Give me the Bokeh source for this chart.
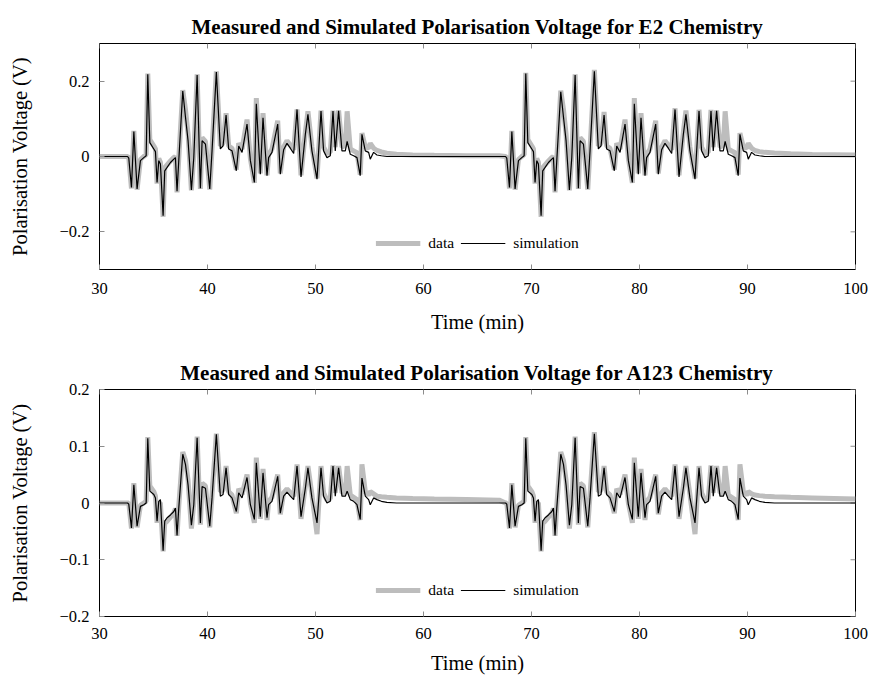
from bokeh.plotting import figure
from bokeh.layouts import column
from bokeh.models import FixedTicker, Legend, LegendItem, CustomJSTickFormatter
from bokeh.embed import file_html
from bokeh.resources import INLINE

FONT = "Liberation Serif"

# ---- time stamps (min) of the polyline vertices, cycle 1 and cycle 2 ----
TIME_C1 = [30.0, 32.6, 32.71, 32.96, 33.18, 33.48, 33.79, 34.10, 34.32, 34.47,
           34.66, 35.03, 35.18, 35.33, 35.49, 35.64, 35.89, 36.04, 36.26, 36.57,
           36.88, 37.03, 37.18, 37.34, 37.71, 37.96, 38.20, 38.51, 38.73, 39.04,
           39.34, 39.50, 39.81, 40.21, 40.42, 40.82, 41.19, 41.44, 41.72, 41.96,
           42.27, 42.67, 42.89, 43.20, 43.66, 43.97, 44.34, 44.52, 44.89, 45.14,
           45.51, 45.66, 45.97, 46.50, 46.74, 47.05, 47.36, 47.67, 47.98, 48.29,
           48.66, 49.06, 49.30, 49.67, 50.14, 50.51, 50.75, 51.06, 51.37, 51.62,
           51.83, 52.14, 52.45, 52.76, 52.93, 53.22, 53.53, 53.84, 54.14, 54.30,
           54.61, 54.92, 55.07, 55.38, 55.69, 56.10, 56.61, 57.5, 59.0, 61.0,
           64.0, 67.0]
TIME_C2 = [67.6, 67.71, 67.96, 68.18, 68.48, 68.79, 69.10, 69.32, 69.47,
           69.66, 70.03, 70.18, 70.33, 70.49, 70.64, 70.89, 71.04, 71.26, 71.57,
           71.88, 72.03, 72.18, 72.34, 72.71, 72.96, 73.20, 73.51, 73.73, 74.04,
           74.34, 74.50, 74.81, 75.21, 75.42, 75.82, 76.19, 76.44, 76.72, 76.96,
           77.27, 77.67, 77.89, 78.20, 78.66, 78.97, 79.34, 79.52, 79.89, 80.14,
           80.51, 80.66, 80.97, 81.50, 81.74, 82.05, 82.36, 82.67, 82.98, 83.29,
           83.66, 84.06, 84.30, 84.67, 85.14, 85.51, 85.75, 86.06, 86.37, 86.62,
           86.83, 87.14, 87.45, 87.76, 87.93, 88.22, 88.53, 88.84, 89.14, 89.30,
           89.61, 89.92, 90.07, 90.38, 90.69, 91.10, 91.61,
           92.5, 94.0, 96.0, 98.0, 100.0]

# ---- E2 chemistry (V) ----
E2_SIM_C1 = [0, 0, -0.004, -0.082, 0.066, -0.086, -0.011, -0.003, 0.002, 0.218,
             0.037, 0.020, 0.013, -0.069, -0.011, -0.020, -0.157, -0.038, -0.029, -0.016,
             -0.007, -0.003, -0.092, -0.011, 0.174, 0.105, 0.042, -0.089, -0.003, 0.216,
             -0.084, 0.042, 0.033, -0.086, 0.015, 0.224, 0.020, 0.028, 0.110, 0.020,
             0.015, -0.038, 0.028, 0.011, 0.086, -0.011, -0.069, 0.140, -0.047, 0.103,
             -0.051, -0.003, 0.011, 0.086, -0.047, 0.018, 0.035, 0.022, 0.008, 0.125,
             -0.054, 0.059, 0.112, 0.015, -0.060, 0.121, 0.015, -0.003, 0.002, 0.121,
             0.015, 0.121, 0.015, 0.015, 0.040, 0.006, 0.002, -0.003, -0.051, 0.059,
             0.015, 0.011, -0.007, 0.011, 0.004, 0.002, 0.0, 0.0, 0.0, 0.0,
             0.0, 0.0]
E2_SIM_C2 = [0, -0.004, -0.082, 0.066, -0.086, -0.011, -0.003, 0.002, 0.220,
             0.037, 0.020, 0.013, -0.069, -0.011, -0.020, -0.157, -0.038, -0.029, -0.016,
             -0.007, -0.003, -0.092, -0.011, 0.172, 0.105, 0.042, -0.089, -0.003, 0.216,
             -0.084, 0.042, 0.033, -0.086, 0.015, 0.226, 0.020, 0.028, 0.110, 0.020,
             0.015, -0.038, 0.028, 0.011, 0.086, -0.011, -0.069, 0.140, -0.047, 0.103,
             -0.051, -0.003, 0.011, 0.086, -0.047, 0.018, 0.035, 0.022, 0.008, 0.125,
             -0.054, 0.059, 0.112, 0.015, -0.060, 0.121, 0.015, -0.003, 0.002, 0.121,
             0.015, 0.121, 0.015, 0.015, 0.040, 0.006, 0.002, -0.003, -0.051, 0.059,
             0.015, 0.011, -0.007, 0.011, 0.004, 0.002, 0.0,
             0.0, 0.0, 0.0, 0.0, 0.0]
E2_DATA_C1 = [0, 0, -0.003, -0.085, 0.068, -0.088, -0.008, 0.0, 0.005, 0.220,
              0.045, 0.028, 0.020, -0.072, -0.005, -0.015, -0.160, -0.030, -0.022, -0.012,
              -0.003, 0.0, -0.095, -0.005, 0.176, 0.125, 0.060, -0.090, 0.003, 0.218,
              -0.086, 0.050, 0.040, -0.088, 0.020, 0.226, 0.028, 0.035, 0.115, 0.028,
              0.022, -0.035, 0.035, 0.020, 0.098, -0.005, -0.070, 0.155, -0.045, 0.115,
              -0.050, 0.005, 0.020, 0.095, -0.045, 0.025, 0.042, 0.030, 0.018, 0.125,
              -0.050, 0.065, 0.120, 0.025, -0.058, 0.122, 0.025, 0.008, 0.012, 0.122,
              0.025, 0.122, 0.025, 0.030, 0.120, 0.020, 0.015, 0.010, -0.048, 0.062,
              0.025, 0.022, 0.035, 0.022, 0.016, 0.012, 0.009, 0.006, 0.004, 0.003,
              0.002, 0.002]
E2_DATA_C2 = [0, -0.003, -0.085, 0.068, -0.088, -0.008, 0.0, 0.005, 0.222,
              0.045, 0.028, 0.020, -0.072, -0.005, -0.015, -0.160, -0.030, -0.022, -0.012,
              -0.003, 0.0, -0.095, -0.005, 0.175, 0.125, 0.060, -0.090, 0.003, 0.218,
              -0.086, 0.050, 0.040, -0.088, 0.020, 0.230, 0.028, 0.035, 0.118, 0.028,
              0.022, -0.035, 0.035, 0.020, 0.098, -0.005, -0.070, 0.155, -0.045, 0.115,
              -0.050, 0.005, 0.020, 0.095, -0.045, 0.025, 0.042, 0.030, 0.018, 0.128,
              -0.050, 0.065, 0.122, 0.025, -0.058, 0.124, 0.025, 0.008, 0.012, 0.124,
              0.025, 0.122, 0.025, 0.030, 0.120, 0.020, 0.015, 0.010, -0.048, 0.062,
              0.025, 0.022, 0.035, 0.022, 0.016, 0.013, 0.011,
              0.009, 0.007, 0.005, 0.0045, 0.004]

# ---- A123 chemistry (V) ----
A123_SIM_C1 = [0, 0, -0.002, -0.044, 0.032, -0.041, -0.006, -0.003, 0.0, 0.114,
               0.021, 0.015, 0.009, -0.032, 0.003, 0.006, -0.084, -0.032, -0.026, -0.021,
               -0.015, -0.009, -0.057, -0.009, 0.086, 0.068, 0.032, -0.039, -0.003, 0.115,
               -0.035, 0.029, 0.026, -0.041, 0.009, 0.121, 0.012, 0.015, 0.062, 0.015,
               0.009, -0.015, 0.018, 0.009, 0.045, -0.003, -0.029, 0.071, -0.024, 0.053,
               -0.026, -0.003, 0.003, 0.047, -0.018, 0.012, 0.019, 0.012, 0.006, 0.065,
               -0.024, 0.026, 0.062, 0.009, -0.035, 0.062, 0.012, 0.0, 0.003, 0.065,
               0.012, 0.062, 0.012, 0.012, 0.021, 0.006, 0.003, -0.003, -0.029, 0.044,
               0.012, 0.006, -0.003, 0.009, 0.006, 0.003, 0.001, 0.0, 0.0, 0.0,
               0.0, 0.0]
A123_SIM_C2 = [0, -0.002, -0.044, 0.032, -0.041, -0.006, -0.003, 0.0, 0.114,
               0.021, 0.015, 0.009, -0.032, 0.003, 0.006, -0.084, -0.032, -0.026, -0.021,
               -0.015, -0.009, -0.057, -0.009, 0.086, 0.068, 0.032, -0.039, -0.003, 0.115,
               -0.035, 0.029, 0.026, -0.041, 0.009, 0.122, 0.012, 0.015, 0.062, 0.015,
               0.009, -0.015, 0.018, 0.009, 0.045, -0.003, -0.029, 0.071, -0.024, 0.053,
               -0.026, -0.003, 0.003, 0.047, -0.018, 0.012, 0.019, 0.012, 0.006, 0.065,
               -0.024, 0.026, 0.062, 0.009, -0.035, 0.062, 0.012, 0.0, 0.003, 0.065,
               0.012, 0.062, 0.012, 0.012, 0.021, 0.006, 0.003, -0.003, -0.029, 0.044,
               0.012, 0.006, -0.003, 0.009, 0.006, 0.003, 0.001,
               0.0, 0.0, 0.0, 0.0, 0.0]
A123_DATA_C1 = [0, 0, 0.0, -0.045, 0.035, -0.043, -0.004, 0.0, 0.003, 0.116,
                0.030, 0.020, 0.012, -0.035, 0.0, 0.0, -0.085, -0.036, -0.032, -0.025,
                -0.018, -0.010, -0.058, -0.005, 0.090, 0.075, 0.040, -0.045, 0.0, 0.117,
                -0.038, 0.035, 0.030, -0.043, 0.015, 0.122, 0.020, 0.022, 0.065, 0.020,
                0.014, -0.018, 0.025, 0.015, 0.050, 0.0, -0.035, 0.080, -0.028, 0.060,
                -0.030, 0.003, 0.010, 0.050, -0.020, 0.018, 0.025, 0.018, 0.012, 0.068,
                -0.028, 0.030, 0.065, 0.015, -0.055, 0.065, 0.018, 0.005, 0.008, 0.066,
                0.018, 0.065, 0.018, 0.018, 0.065, 0.014, 0.010, 0.006, -0.030, 0.068,
                0.020, 0.014, 0.020, 0.016, 0.012, 0.011, 0.010, 0.009, 0.008, 0.007,
                0.006, 0.005]
A123_DATA_C2 = [0, 0.0, -0.045, 0.035, -0.043, -0.004, 0.0, 0.003, 0.116,
                0.030, 0.020, 0.012, -0.035, 0.0, 0.0, -0.085, -0.036, -0.032, -0.025,
                -0.018, -0.010, -0.058, -0.005, 0.090, 0.075, 0.040, -0.045, 0.0, 0.117,
                -0.038, 0.035, 0.030, -0.043, 0.015, 0.125, 0.020, 0.022, 0.065, 0.020,
                0.014, -0.018, 0.025, 0.015, 0.050, 0.0, -0.035, 0.080, -0.028, 0.060,
                -0.030, 0.003, 0.010, 0.050, -0.020, 0.018, 0.025, 0.018, 0.012, 0.068,
                -0.028, 0.030, 0.065, 0.015, -0.055, 0.065, 0.018, 0.005, 0.008, 0.066,
                0.018, 0.065, 0.018, 0.018, 0.065, 0.014, 0.010, 0.006, -0.030, 0.068,
                0.020, 0.014, 0.020, 0.016, 0.014, 0.013, 0.012,
                0.011, 0.010, 0.009, 0.008, 0.007]

X_TICKS = [30, 40, 50, 60, 70, 80, 90, 100]
E2_Y_TICKS = [-0.2, 0, 0.2]
A123_Y_TICKS = [-0.2, -0.1, 0, 0.1, 0.2]

TIME = TIME_C1 + TIME_C2
E2_SIM = E2_SIM_C1 + E2_SIM_C2
E2_DATA = E2_DATA_C1 + E2_DATA_C2
A123_SIM = A123_SIM_C1 + A123_SIM_C2
A123_DATA = A123_DATA_C1 + A123_DATA_C2

TICK_COLOR = "#8c8c8c"

fmt_code = """
if (Math.abs(tick) < 1e-9) { return '0'; }
const s = Math.abs(tick).toFixed(1);
return tick < 0 ? '\u2212' + s : s;
"""


def make(title, data, sim, yr, yticks, height, top, bottom, xlab_so, xtick_so):
    p = figure(width=869, height=height, x_range=(30, 100), y_range=yr,
               output_backend="svg", toolbar_location=None,
               min_border_left=99, min_border_right=14,
               min_border_top=top, min_border_bottom=bottom)
    p.grid.visible = False
    p.outline_line_color = "black"
    p.outline_line_width = 1
    p.background_fill_color = "white"
    p.border_fill_color = "white"

    p.title.text = title
    p.title.align = "center"
    p.title.text_font = FONT
    p.title.text_font_size = "21px"
    p.title.text_font_style = "bold"
    p.title.text_color = "black"

    xa = p.xaxis[0]
    xa.ticker = FixedTicker(ticks=X_TICKS)
    xa.axis_label = "Time (min)"
    ya = p.yaxis[0]
    ya.ticker = FixedTicker(ticks=yticks)
    ya.formatter = CustomJSTickFormatter(code=fmt_code)
    ya.axis_label = "Polarisation Voltage (V)"

    for ax in (xa, ya):
        ax.axis_line_color = None
        ax.major_tick_in = 5
        ax.major_tick_out = 0
        ax.major_tick_line_color = TICK_COLOR
        ax.minor_tick_line_color = None
        ax.major_label_text_font = FONT
        ax.major_label_text_font_size = "16.5px"
        ax.major_label_text_color = "black"
        ax.axis_label_text_font = FONT
        ax.axis_label_text_font_size = "20.5px"
        ax.axis_label_text_font_style = "normal"
        ax.axis_label_text_color = "black"
    xa.major_label_standoff = xtick_so
    ya.major_label_standoff = 10
    xa.axis_label_standoff = xlab_so
    ya.axis_label_standoff = 26

    # tick marks on the opposite (top / right) frame sides
    p.ray(x=X_TICKS, y=[yr[1]] * len(X_TICKS), length=5, length_units="screen",
          angle=-90, angle_units="deg", line_color=TICK_COLOR, line_width=1)
    p.ray(x=[100] * len(yticks), y=yticks, length=5, length_units="screen",
          angle=180, angle_units="deg", line_color=TICK_COLOR, line_width=1)

    r_data = p.line(TIME, data, line_color="#bdbdbd", line_width=5)
    r_sim = p.line(TIME, sim, line_color="black", line_width=1.2)

    legend = Legend(items=[LegendItem(label="data", renderers=[r_data]),
                           LegendItem(label="simulation", renderers=[r_sim])],
                    location="bottom_center", orientation="horizontal")
    legend.border_line_color = None
    legend.background_fill_color = "white"
    legend.background_fill_alpha = 1
    legend.label_text_font = FONT
    legend.label_text_font_size = "15.5px"
    legend.label_text_color = "black"
    legend.glyph_width = 45
    legend.glyph_height = 18
    legend.label_standoff = 8
    legend.spacing = 6
    legend.padding = 0
    legend.margin = 17
    p.add_layout(legend)
    return p


p1 = make("Measured and Simulated Polarisation Voltage for E2 Chemistry",
          E2_DATA, E2_SIM, (-0.3, 0.3), E2_Y_TICKS, 343, 43, 74, 14, 13)
p2 = make("Measured and Simulated Polarisation Voltage for A123 Chemistry",
          A123_DATA, A123_SIM, (-0.2, 0.2), A123_Y_TICKS, 337, 46, 64, 10, 11)

layout = column(p1, p2, spacing=0)
open("out.html", "w").write(file_html(layout, INLINE))
